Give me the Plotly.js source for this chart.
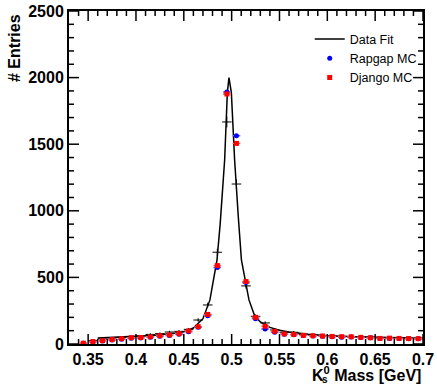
<!DOCTYPE html>
<html><head><meta charset="utf-8">
<script src="https://cdn.plot.ly/plotly-3.0.1.min.js"></script>
<style>html,body{margin:0;padding:0;background:#fff;}#chart{width:437px;height:386px;}</style>
</head><body><div id="chart"></div>
<script>
const binCenters = [0.345,0.355,0.365,0.375,0.385,0.395,0.405,0.415,0.425,0.435,0.445,0.455,0.465,0.475,0.485,0.495,0.505,0.515,0.525,0.535,0.545,0.555,0.565,0.575,0.585,0.595,0.605,0.615,0.625,0.635,0.645,0.655,0.665,0.675,0.685,0.695];
const rapgapMC = [5,15,22,30,36,44,45,50,58,64,73,92,125,212,574,1892,1564,461,190,113,88,74,70,64,60,58,54,51,52,49,46,42,42,41,40,39];
const djangoMC = [6,18,25,33,40,47,49,54,62,68,78,98,130,222,589,1877,1506,469,200,133,95,76,72,65,62,60,57,55,54,50,47,42,44,42,41,40];
const dataX = [0.355,0.365,0.375,0.385,0.395,0.405,0.415,0.425,0.435,0.445,0.455,0.465,0.475,0.485,0.495,0.505,0.515,0.525,0.535,0.545,0.555,0.565,0.575,0.585,0.595,0.605,0.615,0.625,0.635,0.645,0.655,0.665,0.675,0.685,0.695];
const dataY = [25,38,45,50,55,60,72,78,90,95,110,180,293,689,1667,1201,436,208,158,105,88,88,72,66,62,60,57,55,53,50,47,45,44,42,40];
const fitX = [0.36,0.38,0.40,0.42,0.44,0.45,0.46,0.47,0.4773,0.4805,0.4847,0.488,0.4927,0.4955,0.4972,0.4997,0.5031,0.507,0.5102,0.5181,0.5241,0.53,0.54,0.55,0.56,0.58,0.60,0.63,0.66,0.70];
const fitY = [45,52,58,66,80,92,120,190,331,456,632,900,1383,1887,2000,1887,1383,950,632,331,210,165,125,103,90,73,62,55,49,43];
const xTickVals = [0.35,0.4,0.45,0.5,0.55,0.6,0.65,0.7];
const yTickVals = [0,500,1000,1500,2000,2500];
const xRange = [0.33, 0.7];
const yRange = [0, 2500];

// frame tick marks drawn as one-sided error bars (inside, on all four sides)
const plotW = 437 - 69 - 14, plotH = 386 - 11 - 42;
const yPerPx = (yRange[1] - yRange[0]) / plotH;
const xPerPx = (xRange[1] - xRange[0]) / plotW;
const xMinor = [], yMinor = [];
for (let i = 34; i <= 69; i++) { if (i % 5 !== 0) xMinor.push(i / 100); }
for (let i = 1; i < 25; i++) { if (i % 5 !== 0) yMinor.push(i * 100); }

function xTickTrace(vals, atY, lenPx, up) {
  const L = lenPx * yPerPx;
  return {x: vals, y: vals.map(() => atY), type:'scatter', mode:'markers', showlegend:false, hoverinfo:'skip',
    cliponaxis:false, marker:{size:1, color:'rgba(0,0,0,0)'},
    error_y:{type:'data', symmetric:false, array: vals.map(() => up ? L : 0), arrayminus: vals.map(() => up ? 0 : L),
      width:0, thickness:1.5, color:'black'}};
}
function yTickTrace(vals, atX, lenPx, right) {
  const L = lenPx * xPerPx;
  return {x: vals.map(() => atX), y: vals, type:'scatter', mode:'markers', showlegend:false, hoverinfo:'skip',
    cliponaxis:false, marker:{size:1, color:'rgba(0,0,0,0)'},
    error_x:{type:'data', symmetric:false, array: vals.map(() => right ? L : 0), arrayminus: vals.map(() => right ? 0 : L),
      width:0, thickness:1.5, color:'black'}};
}

const traces = [
  xTickTrace(xTickVals, yRange[0], 10, true),
  xTickTrace(xMinor, yRange[0], 5, true),
  xTickTrace(xTickVals, yRange[1], 10, false),
  xTickTrace(xMinor, yRange[1], 5, false),
  yTickTrace(yTickVals, xRange[0], 10, true),
  yTickTrace(yMinor, xRange[0], 5, true),
  yTickTrace(yTickVals, xRange[1], 10, false),
  yTickTrace(yMinor, xRange[1], 5, false),
  {x: dataX, y: dataY, type:'scatter', mode:'markers', showlegend:false,
   marker:{size:1, color:'black'},
   error_x:{type:'constant', value:0.005, width:0, thickness:1, color:'black'},
   error_y:{type:'sqrt', width:0, thickness:1, color:'black'}},
  {x: fitX, y: fitY, type:'scatter', mode:'lines', name:'Data Fit',
   line:{color:'black', width:1.5}},
  {x: binCenters, y: rapgapMC, type:'scatter', mode:'markers', name:'Rapgap MC',
   marker:{symbol:'circle', size:5, color:'#0000ff'},
   error_x:{type:'constant', value:0.004, width:0, thickness:1.5, color:'#6666ff'}},
  {x: binCenters, y: djangoMC, type:'scatter', mode:'markers', name:'Django MC',
   marker:{symbol:'square', size:5, color:'#ff0000'},
   error_x:{type:'constant', value:0.004, width:0, thickness:1.5, color:'#ff5555'}}
];

const fam = 'Liberation Sans, Arial, sans-serif';
const tickFont = {family:fam, size:16, color:'black', weight:'bold'};
const layout = {
  width:437, height:386,
  margin:{l:69, r:14, t:11, b:42},
  paper_bgcolor:'white', plot_bgcolor:'white',
  font:{family:fam, color:'black'},
  xaxis:{range:xRange, autorange:false, tickmode:'array', tickvals:xTickVals, ticktext:xTickVals.map(String), ticks:'',
    showline:true, linewidth:2, linecolor:'black', mirror:true, showgrid:false, zeroline:false,
    tickfont:tickFont},
  yaxis:{range:yRange, autorange:false, tickmode:'array', tickvals:yTickVals, ticks:'',
    showline:true, linewidth:2, linecolor:'black', mirror:true, showgrid:false, zeroline:false,
    tickfont:tickFont},
  legend:{x:0.68, y:0.96, xanchor:'left', yanchor:'top', bgcolor:'rgba(0,0,0,0)',
    font:{size:12.5, family:fam}, itemwidth:30, tracegroupgap:0},
  annotations:[
    {text:'# Entries', xref:'paper', yref:'paper', x:-0.1525, y:0.889, xanchor:'center', yanchor:'middle',
     textangle:-90, showarrow:false, font:{size:16, weight:'bold', family:fam}},
    {text:'K<sup>0</sup> Mass [GeV]', xref:'paper', yref:'paper', x:1.0, y:-0.09, xanchor:'right', yanchor:'middle',
     showarrow:false, font:{size:16, weight:'bold', family:fam}},
    {text:'s', xref:'paper', yref:'paper', x:0.724, y:-0.108, xanchor:'center', yanchor:'middle',
     showarrow:false, font:{size:10, weight:'bold', family:fam}}
  ]
};
Plotly.newPlot('chart', traces, layout, {displayModeBar:false, staticPlot:true});
</script></body></html>
